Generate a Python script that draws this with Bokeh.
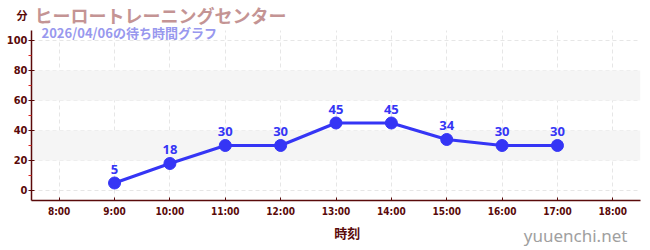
from bokeh.plotting import figure
from bokeh.models import (ColumnDataSource, BoxAnnotation, Label, FixedTicker, Range1d,
                          LabelSet, LinearAxis)
from bokeh.core.properties import value
from bokeh.layouts import column
from bokeh.embed import file_html
from bokeh.resources import INLINE

hours = [9, 10, 11, 12, 13, 14, 15, 16, 17]
waits = [5, 18, 30, 30, 45, 45, 34, 30, 30]
tick_hours = [8, 9, 10, 11, 12, 13, 14, 15, 16, 17, 18]
tick_labels = ["8:00", "9:00", "10:00", "11:00", "12:00", "13:00", "14:00", "15:00", "16:00", "17:00", "18:00"]
y_ticks = [0, 20, 40, 60, 80, 100]
y_minor = [10, 30, 50, 70, 90]
bands = [(20, 40), (60, 80)]
title_text = "ヒーロートレーニングセンター"
subtitle_text = "2026/04/06の待ち時間グラフ"
unit_text = "分"
xlabel_text = "時刻"
watermark = "yuuenchi.net"

DARK = "#5a0a0a"
BLUE = "#3535f5"
TICKFONT = "DejaVu Sans Condensed"
CJK = "Noto Sans CJK JP"

Y_LO, Y_HI = -6.67, 126.67      # frame spans canvas rows 0..200
Y_AXIS_TOP = 106.67             # visible axis line ends here (canvas row 30)
UNIT_POS = 116                  # where the unit caption sits on the value axis

# ---- main chart ----
p = figure(width=650, height=220, output_backend="svg", toolbar_location=None,
           x_range=Range1d(7.5, 18.5), y_range=Range1d(Y_LO, Y_HI),
           min_border_left=31, min_border_right=10, min_border_top=0, min_border_bottom=20)
p.outline_line_color = None
p.background_fill_color = "white"

for lo, hi in bands:
    p.add_layout(BoxAnnotation(bottom=lo, top=hi, fill_color="#f5f5f5", fill_alpha=1,
                               line_color=None, level="underlay"))

src = ColumnDataSource(dict(x=hours, y=waits, t=[str(v) for v in waits]))
p.line("x", "y", source=src, line_color=BLUE, line_width=3)
p.scatter("x", "y", source=src, size=12, fill_color=BLUE, line_color=BLUE)
p.add_layout(LabelSet(x="x", y="y", text="t", source=src, y_offset=9, text_align="center",
                      text_color=BLUE, text_font_size="13px", text_font_style="bold",
                      text_font=value("Noto Sans")))

# x axis
xa = p.xaxis[0]
xa.ticker = FixedTicker(ticks=tick_hours)
xa.major_label_overrides = {h: l for h, l in zip(tick_hours, tick_labels)}
xa.axis_line_color = DARK
xa.axis_line_width = 1.5
xa.major_tick_line_color = DARK
xa.major_tick_in = 3
xa.major_tick_out = 0
xa.minor_tick_line_color = None
xa.major_label_text_color = DARK
xa.major_label_text_font = TICKFONT
xa.major_label_text_font_style = "bold"
xa.major_label_text_font_size = "10px"

# inner y axis: line + ticks only
ya = p.yaxis[0]
ya.ticker = FixedTicker(ticks=y_ticks, minor_ticks=y_minor)
ya.bounds = (Y_LO, Y_AXIS_TOP)
ya.axis_line_color = DARK
ya.axis_line_width = 1.5
ya.major_tick_line_color = DARK
ya.major_tick_in = 3
ya.major_tick_out = 3
ya.minor_tick_line_color = "#dd2222"
ya.minor_tick_in = 0
ya.minor_tick_out = 3
ya.major_label_overrides = {t: "" for t in y_ticks}
ya.major_label_text_font_size = "0px"
ya.major_label_standoff = 0

# outer y axis: the labels, plus the unit caption at the top
yl = LinearAxis(ticker=FixedTicker(ticks=y_ticks + [UNIT_POS]))
yl.major_label_overrides = {UNIT_POS: unit_text}
yl.axis_line_color = None
yl.major_tick_line_color = None
yl.minor_tick_line_color = None
yl.major_tick_in = 0
yl.major_tick_out = 0
yl.minor_tick_in = 0
yl.minor_tick_out = 0
yl.major_label_standoff = 1
yl.major_label_text_color = DARK
yl.major_label_text_font = TICKFONT + ", " + CJK
yl.major_label_text_font_style = "bold"
yl.major_label_text_font_size = "11px"
p.add_layout(yl, "left")

p.xgrid.ticker = FixedTicker(ticks=tick_hours)
p.ygrid.ticker = FixedTicker(ticks=y_ticks)
for g in (p.xgrid[0], p.ygrid[0]):
    g.grid_line_color = "#e6e6e6"
    g.grid_line_dash = "4 3"
if "cross_bounds" in p.xgrid[0].properties():
    p.xgrid[0].cross_bounds = (Y_LO, Y_AXIS_TOP)

# titles inside the frame (screen units from frame bottom-left; frame left=31, bottom=200)
p.add_layout(Label(x=3, y=185.5, x_units="screen", y_units="screen", text=title_text,
                   text_color="#c49494", text_font=CJK, text_font_style="bold",
                   text_font_size="18px", text_baseline="middle"))
p.add_layout(Label(x=10, y=168.5, x_units="screen", y_units="screen", text=subtitle_text,
                   text_color="#9898ee", text_font=CJK, text_font_style="bold",
                   text_font_size="13px", text_baseline="middle"))

# ---- footer (canvas rows 220..250) ----
foot = figure(width=650, height=30, output_backend="svg", toolbar_location=None,
              x_range=Range1d(0, 650), y_range=Range1d(250, 220),
              x_axis_type=None, y_axis_type=None,
              min_border_left=0, min_border_right=0, min_border_top=0, min_border_bottom=0)
foot.outline_line_color = None
foot.grid.visible = False
foot.text(x=[337], y=[232], text=[xlabel_text], text_color=DARK, text_font=value(CJK),
          text_font_style="bold", text_font_size="13px", text_baseline="middle",
          text_align="center")
foot.text(x=[636], y=[235], text=[watermark], text_color="#a0a0a0", text_font=value("Noto Sans"),
          text_font_size="17px", text_baseline="middle", text_align="right")

layout = column(p, foot, spacing=0)
open("out.html", "w").write(file_html(layout, INLINE))
